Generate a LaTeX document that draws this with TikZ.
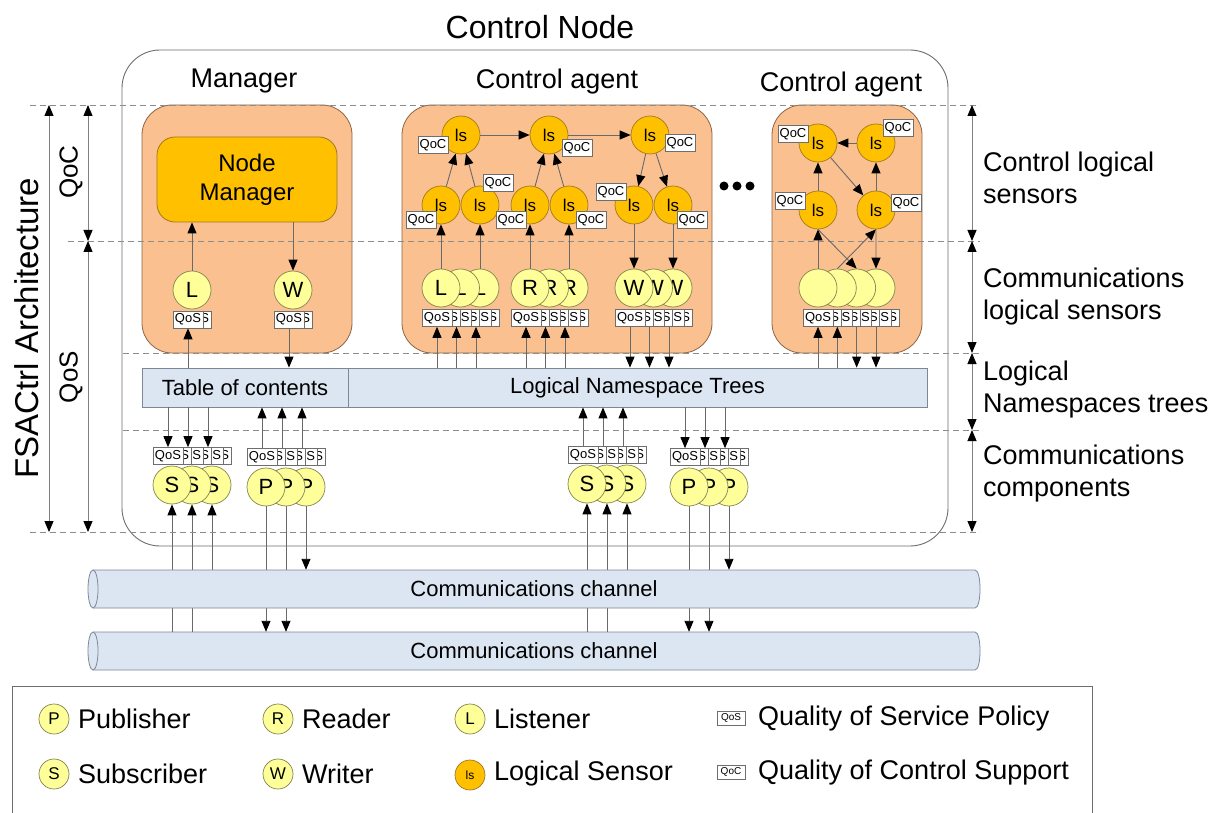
\documentclass[tikz,border=0pt]{standalone}
\usepackage{fontspec}
\setmainfont{Liberation Sans}
\usetikzlibrary{arrows.meta,calc}
\pgfdeclarelayer{behind}
\pgfsetlayers{behind,main}

\definecolor{peach}{RGB}{250,192,144}
\definecolor{peachline}{RGB}{140,100,70}
\definecolor{gold}{RGB}{255,192,0}
\definecolor{goldline}{RGB}{160,120,30}
\definecolor{paleyellow}{RGB}{255,255,153}
\definecolor{yellowline}{RGB}{130,130,80}
\definecolor{steel}{RGB}{220,230,242}
\definecolor{steelline}{RGB}{125,135,150}
\definecolor{wire}{RGB}{105,105,105}
\definecolor{frame}{RGB}{110,110,110}
\definecolor{guideline}{RGB}{140,140,140}

\newcommand{\pxfont}[2]{\fontsize{#1}{#2}\selectfont}

% overlapping QoS tags, the front tag on the left
\newcommand{\tagstack}[5]{%
  \foreach \i in {#2} {%
    \node[qtag] at ({#3+#5*\i+8},#4) {QoS};
    \node[qtag] (#1\i) at ({#3+#5*\i},#4) {QoS};
  }}
% overlapping endpoint circles, the front circle on the left
\newcommand{\ringstack}[6]{%
  \foreach \i in {#2} {%
    \node[ycirc] (#1\i) at ({#3+#5*\i},#4) {#6};
  }}

\begin{document}
\begin{tikzpicture}[x=1pt,y=-1pt,
  agentbox/.style={draw=peachline,fill=peach,line width=0.8pt,rounded corners=30pt},
  mgrbox/.style={draw=goldline,fill=gold,line width=0.8pt,rounded corners=18pt,minimum width=180pt,minimum height=85pt,align=center,font=\pxfont{24}{29}},
  ycirc/.style={circle,draw=yellowline,fill=paleyellow,line width=0.7pt,minimum size=38pt,inner sep=0pt,font=\pxfont{22}{26}},
  lscirc/.style={circle,draw=goldline,fill=gold,line width=0.7pt,minimum size=38pt,inner sep=0pt,font=\pxfont{17}{20}},
  qtag/.style={draw=frame,fill=white,line width=0.6pt,minimum width=30pt,minimum height=17pt,inner sep=0pt,font=\pxfont{13}{15}},
  treebar/.style={draw=steelline,fill=steel,line width=0.8pt,minimum height=39pt,inner sep=0pt,font=\pxfont{22}{26}},
  link/.style={draw=wire,line width=0.9pt,-{Triangle[length=11pt,width=9pt,color=black]}},
  extent/.style={draw=gray,line width=0.9pt,{Triangle[length=11pt,width=9pt,color=black]}-{Triangle[length=11pt,width=9pt,color=black]}},
  guide/.style={draw=guideline,line width=0.8pt,dash pattern=on 6pt off 4pt},
  sidetext/.style={inner sep=0pt,anchor=west,align=left,font=\pxfont{27}{32}},
  heading/.style={inner sep=0pt,font=\pxfont{27}{32}},
  keytext/.style={inner sep=0pt,anchor=west,font=\pxfont{27}{32}},
]
\useasboundingbox (0,0) rectangle (1221,813);
\begin{pgfonlayer}{behind}
  \fill[white] (0,0) rectangle (1221,813);
\end{pgfonlayer}

% ---------- control node frame and titles
\draw[draw=frame,line width=0.9pt,rounded corners=38pt] (122,50) rectangle (948,546);
\node[inner sep=0pt,font=\pxfont{32}{38}] (title) at (540,27) {Control Node};
\node[heading] (tmgr) at (244,81) {Manager};
\node[heading] (tag1) at (557,82) {Control agent};
\node[heading] (tag2) at (841,85) {Control agent};

% ---------- agent containers
\draw[agentbox] (142,105) rectangle (352,353);
\draw[agentbox] (402,105) rectangle (712,353);
\draw[agentbox] (772,105) rectangle (922,353);

% ---------- layer guides
\draw[guide] (30,105) -- (980,105);
\draw[guide] (68,241) -- (980,241);
\draw[guide] (123,353) -- (980,353);
\draw[guide] (123,430) -- (980,430);
\draw[guide] (30,532) -- (980,532);

% ---------- extents on the left
\coordinate (a0) at (49,105);  \coordinate (a1) at (49,532);
\coordinate (b0) at (88,105);  \coordinate (b1) at (88,241); \coordinate (b2) at (88,532);
\draw[extent] (a0) -- (a1);
\draw[extent] (b0) -- (b1);
\draw[extent] (b1) -- (b2);
\node[inner sep=0pt,rotate=90,font=\pxfont{33}{38}] (arch) at (27,328) {FSACtrl Architecture};
\node[inner sep=0pt,rotate=90,font=\pxfont{26}{30}] (lqoc) at (71,172) {QoC};
\node[inner sep=0pt,rotate=90,font=\pxfont{26}{30}] (lqos) at (71,377) {QoS};

% ---------- extents on the right
\coordinate (r0) at (972,105); \coordinate (r1) at (972,241);
\coordinate (r2) at (972,353); \coordinate (r3) at (972,430);
\coordinate (r4) at (972,532);
\draw[extent] (r0) -- (r1);
\draw[extent] (r1) -- (r2);
\draw[extent] (r2) -- (r3);
\draw[extent] (r3) -- (r4);
\node[sidetext] (s1) at (983,178) {Control logical\\sensors};
\node[sidetext] (s2) at (983,297) {Communications\\logical sensors};
\node[sidetext] (s3) at (983,390) {Logical\\Namespaces trees};
\node[sidetext] (s4) at (983,474) {Communications\\components};

% ---------- namespace bars
\node[treebar,minimum width=206pt] (toc) at (245,387.5) {Table of contents};
\node[treebar,minimum width=579pt] (lnt) at (637.5,387.5) {Logical Namespace Trees};

% ---------- communications channels
\fill[steel] (93,570) -- (975,570) .. controls (981.7,570) and (981.7,608) .. (975,608) -- (93,608) -- cycle;
\draw[steelline,line width=0.8pt] (93,570) -- (975,570) .. controls (981.7,570) and (981.7,608) .. (975,608) -- (93,608);
\draw[steelline,fill=steel,line width=0.8pt] (93,589) ellipse [x radius=5pt,y radius=19pt];
\node[inner sep=0pt,minimum width=882pt,minimum height=38pt,font=\pxfont{22}{26}] (ch1) at (534,589) {Communications channel};
\fill[steel] (93,632) -- (975,632) .. controls (981.7,632) and (981.7,670) .. (975,670) -- (93,670) -- cycle;
\draw[steelline,line width=0.8pt] (93,632) -- (975,632) .. controls (981.7,632) and (981.7,670) .. (975,670) -- (93,670);
\draw[steelline,fill=steel,line width=0.8pt] (93,651) ellipse [x radius=5pt,y radius=19pt];
\node[inner sep=0pt,minimum width=882pt,minimum height=38pt,font=\pxfont{22}{26}] (ch2) at (534,651) {Communications channel};

% ---------- manager
\node[mgrbox] (NM) at (247,179.5) {Node\\Manager};
\node[ycirc] (mL) at (192,290) {L};
\node[ycirc] (mW) at (293,290) {W};
\tagstack{mLq}{0}{188}{319.5}{19}
\tagstack{mWq}{0}{289}{319.5}{19}

% ---------- first control agent
\node[lscirc] (t1) at (461,135) {ls};
\node[lscirc] (t2) at (549,135) {ls};
\node[lscirc] (t3) at (650,135) {ls};
\node[lscirc] (m1) at (441,205) {ls};
\node[lscirc] (m2) at (480,205) {ls};
\node[lscirc] (m3) at (530,205) {ls};
\node[lscirc] (m4) at (569,205) {ls};
\node[lscirc] (m5) at (634,205) {ls};
\node[lscirc] (m6) at (673,205) {ls};
\ringstack{La}{2,1,0}{441}{288}{19.5}{L}
\ringstack{Ra}{2,1,0}{530}{288}{19.5}{R}
\ringstack{Wa}{2,1,0}{634}{288}{19.5}{W}
\tagstack{Laq}{2,1,0}{437}{318}{19.5}
\tagstack{Raq}{2,1,0}{526}{318}{19.5}
\tagstack{Waq}{2,1,0}{630}{318}{19.5}

% ---------- second control agent
\node[lscirc] (tl) at (818,143) {ls};
\node[lscirc] (tr) at (876,143) {ls};
\node[lscirc] (bl) at (818,210) {ls};
\node[lscirc] (br) at (876,210) {ls};
\ringstack{Cb}{3,2,1,0}{818}{288}{19.33}{}
\tagstack{Cbq}{3,2,1,0}{818}{318}{19.33}

% ---------- communications components
\ringstack{Sa}{2,1,0}{172}{485}{20}{S}
\tagstack{Saq}{2,1,0}{168}{456}{20}
\ringstack{Pa}{2,1,0}{266}{487}{20}{P}
\tagstack{Paq}{2,1,0}{262}{457}{20}
\ringstack{Sb}{2,1,0}{587}{484}{20}{S}
\tagstack{Sbq}{2,1,0}{583}{455}{20}
\ringstack{Pb}{2,1,0}{689}{487}{20}{P}
\tagstack{Pbq}{2,1,0}{685}{457}{20}

% ---------- manager links
\draw[link] (mL.north) -- (mL.north |- NM.south);
\draw[link] (NM.south -| mW) -- (mW.north);
\draw[link] (toc.north -| mLq0) -- (mLq0.south);
\draw[link] (mWq0.south) -- (mWq0.south |- toc.north);

% ---------- first agent links
\foreach \i in {0,1,2} {
  \draw[link] (lnt.north -| Laq\i) -- (Laq\i.south);
  \draw[link] (lnt.north -| Raq\i) -- (Raq\i.south);
  \draw[link] (Waq\i.south) -- (Waq\i.south |- lnt.north);
}
\draw[link] (La0) -- (m1);
\draw[link] (La2) -- (m2);
\draw[link] (Ra0) -- (m3);
\draw[link] (Ra2) -- (m4);
\draw[link] (m1) -- (t1);
\draw[link] (m2) -- (t1);
\draw[link] (m3) -- (t2);
\draw[link] (m4) -- (t2);
\draw[link] (t1) -- (t2);
\draw[link] (t2) -- (t3);
\draw[link] (t3) -- (m5);
\draw[link] (t3) -- (m6);
\draw[link] (m5) -- (Wa0);
\draw[link] (m6) -- (Wa2);

% ---------- second agent links
\foreach \i in {0,1} \draw[link] (lnt.north -| Cbq\i) -- (Cbq\i.south);
\foreach \i in {2,3} \draw[link] (Cbq\i.south) -- (Cbq\i.south |- lnt.north);
\draw[link] (Cb0) -- (bl);
\draw[link] (bl) -- (tl);
\draw[link] (tr) -- (tl);
\draw[link] (tl) -- (br);
\draw[link] (br) -- (tr);
\draw[link] (bl.south) -- (Cb2.north);
\draw[link] (Cb1.north) -- (br.south);
\draw[link] (br) -- (Cb3);

% ---------- component links to the namespace bars
\foreach \i in {0,1,2} {
  \draw[link] (toc.south -| Saq\i) -- (Saq\i.north);
  \draw[link] (Paq\i.north) -- (Paq\i.north |- toc.south);
  \draw[link] (Sbq\i.north) -- (Sbq\i.north |- lnt.south);
  \draw[link] (lnt.south -| Pbq\i) -- (Pbq\i.north);
}

% ---------- component links to the channels (behind the upper channel)
\begin{pgfonlayer}{behind}
  \foreach \i in {0,1} {
    \draw[link] (ch2.north -| Sa\i) -- (Sa\i.south);
    \draw[link] (Pa\i.south) -- (Pa\i.south |- ch2.north);
    \draw[link] (ch2.north -| Sb\i) -- (Sb\i.south);
    \draw[link] (Pb\i.south) -- (Pb\i.south |- ch2.north);
  }
  \draw[link] (ch1.north -| Sa2) -- (Sa2.south);
  \draw[link] (Pa2.south) -- (Pa2.south |- ch1.north);
  \draw[link] (ch1.north -| Sb2) -- (Sb2.south);
  \draw[link] (Pb2.south) -- (Pb2.south |- ch1.north);
\end{pgfonlayer}

% ---------- QoC tags on the logical sensors
\node[qtag] (ct1) at (433,145) {QoC};
\node[qtag] (ct2) at (577,148) {QoC};
\node[qtag] (ct3) at (680,143) {QoC};
\node[qtag] (cm1) at (421,220) {QoC};
\node[qtag] (cm2) at (498,183) {QoC};
\node[qtag] (cm3) at (511,220) {QoC};
\node[qtag] (cm4) at (591,220) {QoC};
\node[qtag] (cm5) at (611,192) {QoC};
\node[qtag] (cm6) at (692,220) {QoC};
\node[qtag] (ctl) at (793,134) {QoC};
\node[qtag] (ctr) at (898,128) {QoC};
\node[qtag] (cbl) at (790,201) {QoC};
\node[qtag] (cbr) at (906,203) {QoC};

% ---------- more agents
\fill (724,186) circle (4.5pt);
\fill (737,186) circle (4.5pt);
\fill (750,186) circle (4.5pt);

% ---------- legend
\draw[draw=frame,line width=0.9pt] (12,813) -- (12,686) -- (1092,686) -- (1092,813);
\node[ycirc,minimum size=30pt,font=\pxfont{17}{20}] (kP) at (54,719) {P};
\node[keytext] (kPt) at (78,719) {Publisher};
\node[ycirc,minimum size=30pt,font=\pxfont{17}{20}] (kR) at (278,719) {R};
\node[keytext] (kRt) at (302,719) {Reader};
\node[ycirc,minimum size=30pt,font=\pxfont{17}{20}] (kL) at (470,719) {L};
\node[keytext] (kLt) at (494,719) {Listener};
\node[qtag,minimum width=28pt,minimum height=14pt,font=\pxfont{10}{12}] (kQ) at (731,718) {QoS};
\node[keytext] (kQt) at (758,719) {Quality of Service Policy};
\node[ycirc,minimum size=30pt,font=\pxfont{17}{20}] (kS) at (54,774) {S};
\node[keytext] (kSt) at (78,774) {Subscriber};
\node[ycirc,minimum size=30pt,font=\pxfont{17}{20}] (kW) at (278,774) {W};
\node[keytext] (kWt) at (302,774) {Writer};
\node[lscirc,minimum size=30pt,font=\pxfont{12}{14}] (kls) at (470,775) {ls};
\node[keytext] (klst) at (494,774) {Logical Sensor};
\node[qtag,minimum width=28pt,minimum height=14pt,font=\pxfont{10}{12}] (kC) at (731,772) {QoC};
\node[keytext] (kCt) at (758,773) {Quality of Control Support};
\end{tikzpicture}
\end{document}
